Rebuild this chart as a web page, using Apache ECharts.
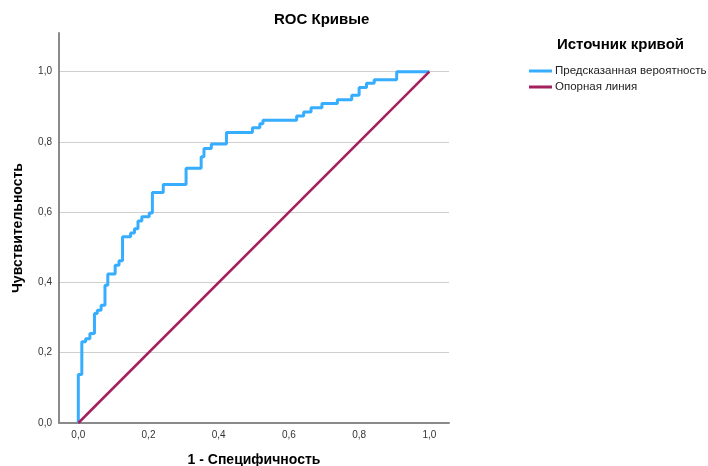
<!DOCTYPE html>
<html>
<head>
<meta charset="utf-8">
<script src="https://cdn.jsdelivr.net/npm/echarts@6/dist/echarts.min.js"></script>
<style>
  html, body { margin: 0; padding: 0; background: #fff; }
  #chart { width: 708px; height: 466px; }
</style>
</head>
<body>
<div id="chart"></div>
<script>
// ROC curve points (1 - specificity, sensitivity); each point closes a rise-then-run step
const fpr = [0, 0.010, 0.021, 0.033, 0.046, 0.054, 0.065, 0.076, 0.084, 0.105, 0.116, 0.126,
  0.149, 0.160, 0.170, 0.181, 0.202, 0.211, 0.242, 0.307, 0.350, 0.358, 0.379, 0.422,
  0.496, 0.517, 0.526, 0.622, 0.642, 0.663, 0.694, 0.738, 0.779, 0.800, 0.821, 0.843, 0.907, 1.0];
const tpr = [0, 0.138, 0.231, 0.240, 0.255, 0.312, 0.321, 0.335, 0.392, 0.424, 0.449, 0.462,
  0.530, 0.541, 0.553, 0.575, 0.587, 0.598, 0.656, 0.679, 0.725, 0.758, 0.781, 0.794,
  0.827, 0.840, 0.852, 0.862, 0.874, 0.885, 0.897, 0.909, 0.920, 0.933, 0.955, 0.967, 0.977, 1.0];
// Diagonal reference line
const refX = [0, 1];
const refY = [0, 1];
const tickValues = [0, 0.2, 0.4, 0.6, 0.8, 1.0];
const seriesNames = ['Предсказанная вероятность', 'Опорная линия'];

const FONT = '"Liberation Sans", Arial, sans-serif';
const fmt = v => v.toFixed(1).replace('.', ',');

const chart = echarts.init(document.getElementById('chart'), null, { renderer: 'canvas' });
chart.setOption({
  animation: false,
  backgroundColor: '#ffffff',
  title: [
    { text: 'ROC Кривые', left: 274, top: 12, padding: 0,
      textStyle: { fontFamily: FONT, fontSize: 15, fontWeight: 'bold', color: '#000' } },
    { text: 'Источник кривой', left: 557, top: 37, padding: 0,
      textStyle: { fontFamily: FONT, fontSize: 15, fontWeight: 'bold', color: '#000' } }
  ],
  legend: {
    orient: 'vertical', left: 529, top: 65, itemGap: 4, padding: 0,
    itemWidth: 23, itemHeight: 3, icon: 'rect',
    textStyle: { fontFamily: FONT, fontSize: 11.5, color: '#222', padding: [0, 0, 0, -2] },
    data: seriesNames
  },
  grid: { left: 59, top: 33, right: 259, bottom: 43, containLabel: false, outerBoundsMode: 'none' },
  xAxis: {
    type: 'value', min: -0.055, max: 1.056,
    name: '1 - Специфичность', nameLocation: 'middle', nameGap: 30,
    nameTextStyle: { fontFamily: FONT, fontSize: 14, fontWeight: 'bold', color: '#000' },
    axisLine: { show: true, onZero: false, lineStyle: { color: '#8a8a8a', width: 2 } },
    axisTick: { show: false },
    splitLine: { show: false },
    axisLabel: { customValues: tickValues, formatter: fmt, margin: 7,
      fontFamily: FONT, fontSize: 10, color: '#333' }
  },
  yAxis: {
    type: 'value', min: 0, max: 1.11, interval: 0.2,
    name: 'Чувствительность', nameLocation: 'middle', nameGap: 34,
    nameTextStyle: { fontFamily: FONT, fontSize: 14, fontWeight: 'bold', color: '#000' },
    axisLine: { show: true, onZero: false, lineStyle: { color: '#8a8a8a', width: 2 } },
    axisTick: { show: false },
    splitLine: { show: true, showMinLine: false, showMaxLine: false,
      lineStyle: { color: '#cfcfcf', width: 1 } },
    axisLabel: { customValues: tickValues, formatter: fmt, margin: 7,
      fontFamily: FONT, fontSize: 10, color: '#333' }
  },
  series: [
    {
      name: seriesNames[0], type: 'line', step: 'start', showSymbol: false,
      data: fpr.map((x, i) => [x, tpr[i]]),
      lineStyle: { color: '#36adff', width: 3 }, itemStyle: { color: '#36adff' }
    },
    {
      name: seriesNames[1], type: 'line', showSymbol: false,
      data: refX.map((x, i) => [x, refY[i]]),
      lineStyle: { color: '#a3205c', width: 2.5 }, itemStyle: { color: '#a3205c' }
    }
  ]
});
</script>
</body>
</html>
